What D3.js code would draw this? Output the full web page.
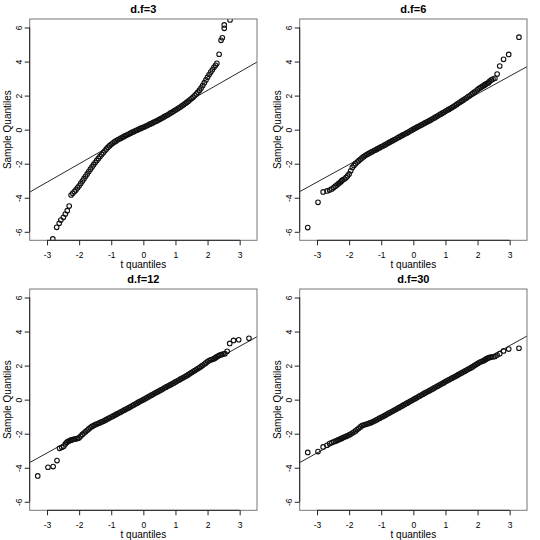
<!DOCTYPE html>
<html lang="en">
<head>
<meta charset="UTF-8">
<title>t QQ plots</title>
<script src="https://d3js.org/d3.v7.min.js"></script>
<style>
    body{ margin:0; background:#fff; }
    text{ font-family:"Liberation Sans", Arial, sans-serif; fill:#000; }
    .tick line{ stroke:#222; }
    .pt{ fill:none; stroke:#111; stroke-width:1.1; }
</style>
</head>
<body>
<svg id="canvas" width="540" height="540"></svg>
<script>
// panel titles
let titles = ["d.f=3", "d.f=6", "d.f=12", "d.f=30"];

// theoretical quantiles, d.f=3 panel
let qx3 = [-2.82,-2.70,-2.62,-2.57,-2.49,-2.43,-2.37,-2.31,
    -2.25,-2.20,-2.15,-2.10,-2.05,-2.00,-1.95,-1.90,-1.85,-1.80,-1.75,-1.70,-1.65,-1.60,-1.55,-1.50,-1.45,-1.40,-1.35,-1.30,-1.25,-1.20,-1.15,-1.10,-1.05,-1.00,
    -0.95,-0.90,-0.85,-0.80,-0.75,-0.70,-0.65,-0.60,-0.55,-0.50,-0.45,-0.40,-0.35,-0.30,-0.25,-0.20,-0.15,-0.10,-0.05,0.00,
    0.05,0.10,0.15,0.20,0.25,0.30,0.35,0.40,0.45,0.50,0.55,0.60,0.65,0.70,0.75,0.80,0.85,0.90,0.95,1.00,
    1.05,1.10,1.15,1.20,1.25,1.30,1.35,1.40,1.45,1.50,1.55,1.60,1.65,1.70,1.75,1.80,1.85,1.90,1.95,2.00,2.05,2.10,2.15,2.20,2.25,
    2.29,2.36,2.42,2.46,2.52,2.52,2.70];
let qy3 = [-6.42,-5.74,-5.50,-5.31,-5.15,-4.96,-4.76,-4.49,
    -3.84,-3.74,-3.64,-3.54,-3.42,-3.30,-3.16,-3.02,-2.88,-2.74,-2.60,-2.46,-2.32,-2.19,-2.06,-1.93,-1.81,-1.69,-1.57,-1.46,-1.35,-1.24,-1.13,-1.03,-0.94,-0.86,
    -0.79,-0.72,-0.66,-0.60,-0.55,-0.50,-0.45,-0.40,-0.35,-0.30,-0.26,-0.21,-0.16,-0.12,-0.07,-0.03,0.02,0.06,0.10,0.14,
    0.18,0.23,0.27,0.32,0.36,0.41,0.46,0.50,0.55,0.60,0.65,0.70,0.76,0.81,0.86,0.92,0.98,1.03,1.09,1.15,
    1.21,1.27,1.33,1.40,1.46,1.53,1.60,1.67,1.75,1.83,1.91,2.00,2.10,2.20,2.32,2.45,2.60,2.76,2.92,3.08,3.24,3.38,3.52,3.66,3.78,
    3.90,4.43,5.25,5.40,5.95,6.15,6.44];

// theoretical quantiles shared by d.f=6, 12, 30 panels
let qx = [-3.29,-2.97,-2.81,-2.69,-2.61,-2.54,-2.48,-2.43,-2.38,-2.34,-2.30,-2.26,-2.23,-2.20,
    -2.15,-2.10,-2.05,-2.00,-1.95,-1.90,-1.85,-1.80,-1.75,-1.70,-1.65,-1.60,-1.55,-1.50,-1.45,-1.40,-1.35,-1.30,-1.25,-1.20,-1.15,-1.10,-1.05,-1.00,
    -0.95,-0.90,-0.85,-0.80,-0.75,-0.70,-0.65,-0.60,-0.55,-0.50,-0.45,-0.40,-0.35,-0.30,-0.25,-0.20,-0.15,-0.10,-0.05,0.00,
    0.05,0.10,0.15,0.20,0.25,0.30,0.35,0.40,0.45,0.50,0.55,0.60,0.65,0.70,0.75,0.80,0.85,0.90,0.95,1.00,
    1.05,1.10,1.15,1.20,1.25,1.30,1.35,1.40,1.45,1.50,1.55,1.60,1.65,1.70,1.75,1.80,1.85,1.90,1.95,2.00,2.05,2.10,2.15,
    2.20,2.23,2.26,2.30,2.34,2.38,2.43,2.48,2.54,2.61,2.69,2.81,2.97,3.29];
let qy6 = [-5.75,-4.27,-3.66,-3.60,-3.55,-3.48,-3.40,-3.32,-3.25,-3.18,-3.12,-3.06,-3.00,-2.95,
    -2.90,-2.82,-2.72,-2.60,-2.42,-2.22,-2.10,-2.00,-1.90,-1.82,-1.74,-1.66,-1.59,-1.52,-1.46,-1.41,-1.36,-1.31,-1.26,-1.21,-1.16,-1.11,-1.06,-1.01,
    -0.96,-0.91,-0.86,-0.80,-0.75,-0.70,-0.65,-0.60,-0.55,-0.49,-0.44,-0.39,-0.34,-0.29,-0.24,-0.19,-0.14,-0.08,-0.03,0.03,
    0.08,0.13,0.18,0.23,0.28,0.33,0.38,0.43,0.48,0.53,0.58,0.64,0.69,0.75,0.80,0.86,0.91,0.97,1.02,1.08,
    1.14,1.19,1.24,1.30,1.36,1.42,1.48,1.55,1.61,1.67,1.73,1.80,1.86,1.93,1.99,2.06,2.13,2.20,2.27,2.35,2.42,2.48,2.54,
    2.60,2.64,2.68,2.72,2.76,2.85,2.92,2.97,3.02,3.27,3.74,4.13,4.42,5.43];
let qy12 = [-4.48,-3.97,-3.93,-3.58,-2.86,-2.80,-2.74,-2.60,-2.50,-2.45,-2.42,-2.38,-2.36,-2.34,
    -2.32,-2.30,-2.28,-2.24,-2.14,-2.04,-1.96,-1.88,-1.80,-1.72,-1.64,-1.57,-1.52,-1.47,-1.43,-1.39,-1.35,-1.31,-1.27,-1.22,-1.17,-1.12,-1.07,-1.02,
    -0.97,-0.92,-0.87,-0.82,-0.77,-0.72,-0.67,-0.62,-0.57,-0.52,-0.47,-0.42,-0.36,-0.31,-0.26,-0.21,-0.15,-0.10,-0.05,0.00,
    0.05,0.10,0.16,0.21,0.26,0.31,0.37,0.42,0.47,0.52,0.57,0.62,0.68,0.73,0.78,0.83,0.88,0.93,0.98,1.04,
    1.09,1.14,1.20,1.25,1.30,1.36,1.41,1.47,1.53,1.59,1.65,1.71,1.77,1.83,1.89,1.95,2.02,2.09,2.16,2.24,2.30,2.34,2.37,
    2.40,2.44,2.48,2.53,2.58,2.62,2.64,2.68,2.70,2.84,3.30,3.48,3.52,3.60];
let qy30 = [-3.10,-3.05,-2.78,-2.68,-2.58,-2.52,-2.48,-2.44,-2.40,-2.36,-2.33,-2.30,-2.27,-2.24,
    -2.20,-2.16,-2.12,-2.07,-2.02,-1.96,-1.90,-1.84,-1.76,-1.68,-1.60,-1.53,-1.49,-1.46,-1.43,-1.40,-1.37,-1.33,-1.29,-1.24,-1.19,-1.14,-1.09,-1.04,
    -0.99,-0.94,-0.89,-0.83,-0.78,-0.73,-0.68,-0.63,-0.58,-0.52,-0.47,-0.42,-0.37,-0.31,-0.26,-0.21,-0.16,-0.10,-0.05,0.01,
    0.06,0.11,0.17,0.22,0.27,0.32,0.38,0.43,0.48,0.53,0.58,0.63,0.69,0.74,0.79,0.84,0.90,0.95,1.00,1.06,
    1.11,1.16,1.21,1.26,1.31,1.36,1.41,1.47,1.52,1.57,1.62,1.67,1.72,1.78,1.83,1.88,1.94,2.00,2.06,2.12,2.18,2.22,2.26,
    2.30,2.34,2.38,2.42,2.46,2.48,2.50,2.52,2.54,2.62,2.70,2.86,2.97,3.02];

// qqline through the quartiles
let lineIntercepts = [0.15, 0.03, 0.00, 0.02];
let lineSlopes = [1.079, 1.037, 1.044, 1.050];

let xTicks = [-3, -2, -1, 0, 1, 2, 3];
let yTicks = [-6, -4, -2, 0, 2, 4, 6];

let panels = [
    {title: titles[0], xs: qx3, ys: qy3, a: lineIntercepts[0], b: lineSlopes[0]},
    {title: titles[1], xs: qx,  ys: qy6, a: lineIntercepts[1], b: lineSlopes[1]},
    {title: titles[2], xs: qx,  ys: qy12, a: lineIntercepts[2], b: lineSlopes[2]},
    {title: titles[3], xs: qx,  ys: qy30, a: lineIntercepts[3], b: lineSlopes[3]}
];

let svg = d3.select("#canvas");
svg.append("rect").attr("width", 540).attr("height", 540).attr("fill", "#fff");

let pLeft = 29.7, pRight = 257, pTop = 19, pBottom = 240.3;
let x = d3.scaleLinear().domain([-3.54, 3.54]).range([pLeft, pRight]);
let y = d3.scaleLinear().domain([-6.5, 6.5]).range([pBottom, pTop]);

panels.forEach(function (p, i) {
    let g = svg.append("g")
        .attr("transform", "translate(" + (i % 2) * 270 + "," + Math.floor(i / 2) * 270 + ")");

    let clipId = "clip" + i;
    g.append("clipPath").attr("id", clipId)
        .append("rect").attr("x", pLeft).attr("y", pTop)
        .attr("width", pRight - pLeft).attr("height", pBottom - pTop);

    let n = Math.min(p.xs.length, p.ys.length);
    let pts = d3.range(n).map(function (k) { return [p.xs[k], p.ys[k]]; });

    let plot = g.append("g").attr("clip-path", "url(#" + clipId + ")");
    plot.selectAll("circle").data(pts).enter().append("circle")
        .attr("class", "pt")
        .attr("cx", function (d) { return x(d[0]); })
        .attr("cy", function (d) { return y(d[1]); })
        .attr("r", 2.3);

    let xd = x.domain();
    plot.append("line")
        .attr("x1", x(xd[0])).attr("y1", y(p.a + p.b * xd[0]))
        .attr("x2", x(xd[1])).attr("y2", y(p.a + p.b * xd[1]))
        .attr("stroke", "#111").attr("stroke-width", 0.9);

    // box
    g.append("rect").attr("x", pLeft).attr("y", pTop)
        .attr("width", pRight - pLeft).attr("height", pBottom - pTop)
        .attr("fill", "none").attr("stroke", "#777").attr("stroke-width", 1);

    // x axis
    let xa = g.append("g").attr("transform", "translate(0," + pBottom + ")")
        .call(d3.axisBottom(x).tickValues(xTicks).tickSize(5).tickFormat(function (d) { return String(d); }));
    xa.select(".domain").remove();
    xa.append("line").attr("x1", x(xTicks[0])).attr("x2", x(xTicks[xTicks.length - 1]))
        .attr("stroke", "#222");
    xa.selectAll(".tick text").attr("y", 17.3).attr("dy", null)
        .attr("font-size", "8.5px").attr("font-family", null);

    // y axis
    let ya = g.append("g").attr("transform", "translate(" + pLeft + ",0)")
        .call(d3.axisLeft(y).tickValues(yTicks).tickSize(5).tickFormat(function (d) { return String(d); }));
    ya.select(".domain").remove();
    ya.append("line").attr("y1", y(yTicks[0])).attr("y2", y(yTicks[yTicks.length - 1]))
        .attr("stroke", "#222");
    ya.selectAll(".tick text").attr("x", null).attr("dy", null)
        .attr("text-anchor", "middle")
        .attr("transform", "translate(-7.7,0) rotate(-90)")
        .attr("font-size", "8.5px").attr("font-family", null);

    // labels
    g.append("text").attr("x", (pLeft + pRight) / 2).attr("y", 13.3)
        .attr("text-anchor", "middle").attr("font-weight", "bold").attr("font-size", "11px")
        .text(p.title);
    g.append("text").attr("x", (pLeft + pRight) / 2).attr("y", 267.8)
        .attr("text-anchor", "middle").attr("font-size", "10px")
        .text("t quantiles");
    g.append("text")
        .attr("transform", "translate(11.3," + (pTop + pBottom) / 2 + ") rotate(-90)")
        .attr("text-anchor", "middle").attr("font-size", "10px")
        .text("Sample Quantiles");
});
</script>
</body>
</html>
